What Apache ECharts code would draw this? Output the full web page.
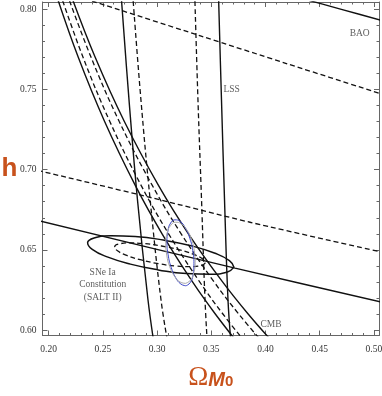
<!DOCTYPE html>
<html>
<head>
<meta charset="utf-8">
<script src="https://cdn.jsdelivr.net/npm/echarts@6.0.0/dist/echarts.min.js"></script>
<style>
  html, body { margin: 0; padding: 0; background: #fff; }
  #chart { width: 382px; height: 396px; }
</style>
</head>
<body>
<div id="chart"></div>
<script>
// axis ranges and ticks
var xMin = 0.1943, xMax = 0.5047
var yMin = 0.5966, yMax = 0.8045
var xMajor = [0.20, 0.25, 0.30, 0.35, 0.40, 0.45, 0.50]
var xMinor = [0.20, 0.21, 0.22, 0.23, 0.24, 0.25, 0.26, 0.27, 0.28, 0.29, 0.30, 0.31, 0.32, 0.33, 0.34, 0.35,
              0.36, 0.37, 0.38, 0.39, 0.40, 0.41, 0.42, 0.43, 0.44, 0.45, 0.46, 0.47, 0.48, 0.49, 0.50]
var yMajor = [0.60, 0.65, 0.70, 0.75, 0.80]
var yMinor = [0.60, 0.61, 0.62, 0.63, 0.64, 0.65, 0.66, 0.67, 0.68, 0.69, 0.70,
              0.71, 0.72, 0.73, 0.74, 0.75, 0.76, 0.77, 0.78, 0.79, 0.80]

// BAO band [Omega_M0, h]
var baoSolidUpper = [[0.43, 0.8074], [0.47, 0.7999], [0.51, 0.7925]]
var baoDashUpper = [[0.24, 0.8051], [0.34, 0.7834], [0.42, 0.7660], [0.51, 0.7465]]
var baoDashLower = [[0.19, 0.6995], [0.2935, 0.6827], [0.3857, 0.6672], [0.51, 0.6482]]
var baoSolidLower = [[0.19, 0.6683], [0.3719, 0.6386], [0.51, 0.6169]]

// LSS band
var lssSolidLeft = [[0.2667, 0.81], [0.2741, 0.7435], [0.2819, 0.6812], [0.2916, 0.6189], [0.2975, 0.59]]
var lssDashLeft = [[0.2774, 0.81], [0.2851, 0.7435], [0.2936, 0.6812], [0.3036, 0.6189], [0.3104, 0.59]]
var lssDashRight = [[0.3347, 0.81], [0.3377, 0.7435], [0.3410, 0.6812], [0.3442, 0.6189], [0.3465, 0.59]]
var lssSolidRight = [[0.3566, 0.81], [0.3594, 0.7435], [0.3622, 0.6812], [0.3654, 0.6189], [0.3684, 0.59]]

// CMB band
var cmbSolidLeft = [[0.2065, 0.81], [0.2273, 0.77], [0.2516, 0.73], [0.2800, 0.69], [0.3046, 0.66],
                    [0.3327, 0.63], [0.3537, 0.61], [0.3768, 0.59]]
var cmbDashLeft = [[0.2105, 0.81], [0.2317, 0.77], [0.2564, 0.73], [0.2854, 0.69], [0.3106, 0.66],
                   [0.3393, 0.63], [0.3607, 0.61], [0.3843, 0.59]]
var cmbDashRight = [[0.2167, 0.81], [0.2391, 0.77], [0.2651, 0.73], [0.2957, 0.69], [0.3222, 0.66],
                    [0.3526, 0.63], [0.3753, 0.61], [0.4004, 0.59]]
var cmbSolidRight = [[0.2199, 0.81], [0.2429, 0.77], [0.2698, 0.73], [0.3014, 0.69], [0.3289, 0.66],
                     [0.3604, 0.63], [0.3840, 0.61], [0.4100, 0.59]]

// SNe Ia contours
var sneSolid = [[0.3709, 0.6392], [0.3649, 0.6362], [0.3495, 0.6348], [0.3271, 0.6352], [0.3011, 0.6375],
                [0.2754, 0.6411], [0.2540, 0.6456], [0.2402, 0.6503], [0.2359, 0.6544], [0.2419, 0.6574],
                [0.2573, 0.6588], [0.2797, 0.6583], [0.3057, 0.6561], [0.3314, 0.6525], [0.3528, 0.6480],
                [0.3667, 0.6433], [0.3709, 0.6392]]
var sneDash = [[0.3445, 0.6419], [0.3407, 0.6402], [0.3312, 0.6395], [0.3173, 0.6399], [0.3012, 0.6414],
               [0.2854, 0.6437], [0.2721, 0.6465], [0.2635, 0.6494], [0.2609, 0.6519], [0.2646, 0.6536],
               [0.2741, 0.6543], [0.2880, 0.6539], [0.3041, 0.6524], [0.3200, 0.6501], [0.3332, 0.6473],
               [0.3418, 0.6444], [0.3445, 0.6419]]

// combined constraint
var jointBlue = [[0.3267, 0.6276], [0.3306, 0.6296], [0.3332, 0.6345], [0.3340, 0.6415], [0.3330, 0.6494],
                 [0.3302, 0.6572], [0.3261, 0.6636], [0.3213, 0.6677], [0.3165, 0.6687], [0.3125, 0.6667],
                 [0.3100, 0.6618], [0.3091, 0.6549], [0.3102, 0.6469], [0.3130, 0.6391], [0.3171, 0.6327],
                 [0.3219, 0.6287], [0.3267, 0.6276]]
var jointGray = [[0.3263, 0.6291], [0.3308, 0.6311], [0.3339, 0.6357], [0.3351, 0.6422], [0.3343, 0.6496],
                 [0.3316, 0.6568], [0.3273, 0.6626], [0.3221, 0.6663], [0.3169, 0.6672], [0.3125, 0.6652],
                 [0.3093, 0.6606], [0.3080, 0.6541], [0.3089, 0.6467], [0.3116, 0.6396], [0.3159, 0.6337],
                 [0.3211, 0.6300], [0.3263, 0.6291]]

// text labels
var labelNames = ['BAO', 'LSS', 'CMB', 'SNe Ia\nConstitution\n(SALT II)']
var labelPos = [[0.4869, 0.7850], [0.3688, 0.7497], [0.4051, 0.6033], [0.2498, 0.6282]]

var ink = '#111'
var frame = '#666'
var accent = '#c8521c'
var serif = 'Liberation Serif'

function curve(data, dashed, color, width, smooth) {
    return {
        type: 'line',
        data: data,
        showSymbol: false,
        silent: true,
        smooth: smooth,
        lineStyle: { color: color, width: width, type: dashed ? [5, 3] : 'solid' },
        z: 3
    }
}

function axisX(pos, ticks, len, main) {
    return {
        type: 'value',
        position: pos,
        min: xMin,
        max: xMax,
        name: main ? '{o|Ω}{m|M}{z|0}' : '',
        nameLocation: 'middle',
        nameGap: 29,
        nameTextStyle: {
            rich: {
                o: { fontFamily: serif, fontSize: 27, color: accent, padding: [0, 0, 8, 0] },
                m: { fontFamily: 'Liberation Sans', fontStyle: 'italic', fontWeight: 'bold', fontSize: 20, color: accent, padding: [0, 0, 4, 0] },
                z: { fontFamily: 'Liberation Sans', fontWeight: 'bold', fontSize: 15, color: accent }
            }
        },
        axisLine: { show: len > 3, lineStyle: { color: frame, width: 1 } },
        axisTick: { show: true, inside: true, length: len, customValues: ticks, lineStyle: { color: frame, width: 1 } },
        axisLabel: {
            show: !!main,
            customValues: xMajor,
            margin: 9,
            fontFamily: serif,
            fontSize: 9.5,
            color: '#333',
            formatter: function (v) { return v.toFixed(2) }
        },
        splitLine: { show: false }
    }
}

function axisY(pos, ticks, len, main) {
    return {
        type: 'value',
        position: pos,
        min: yMin,
        max: yMax,
        name: main ? 'h' : '',
        nameLocation: 'middle',
        nameRotate: 0,
        nameGap: 25,
        nameMoveOverlap: false,
        nameTextStyle: { fontFamily: 'Liberation Sans', fontWeight: 'bold', fontSize: 26, color: accent },
        axisLine: { show: len > 3, lineStyle: { color: frame, width: 1 } },
        axisTick: { show: true, inside: true, length: len, customValues: ticks, lineStyle: { color: frame, width: 1 } },
        axisLabel: {
            show: !!main,
            customValues: yMajor,
            margin: 6,
            fontFamily: serif,
            fontSize: 9.5,
            color: '#333',
            formatter: function (v) { return v.toFixed(2) }
        },
        splitLine: { show: false }
    }
}

var chart = echarts.init(document.getElementById('chart'), null, { renderer: 'canvas' })

var series = [
    curve(baoSolidUpper, false, ink, 1.4, 0.3),
    curve(baoDashUpper, true, ink, 1.3, 0.3),
    curve(baoDashLower, true, ink, 1.3, 0.3),
    curve(baoSolidLower, false, ink, 1.4, 0.3),
    curve(lssSolidLeft, false, ink, 1.4, 0.4),
    curve(lssDashLeft, true, ink, 1.3, 0.4),
    curve(lssDashRight, true, ink, 1.3, 0.4),
    curve(lssSolidRight, false, ink, 1.4, 0.4),
    curve(cmbSolidLeft, false, ink, 1.4, 0.4),
    curve(cmbDashLeft, true, ink, 1.3, 0.4),
    curve(cmbDashRight, true, ink, 1.3, 0.4),
    curve(cmbSolidRight, false, ink, 1.4, 0.4),
    curve(sneSolid, false, ink, 1.5, 0.5),
    curve(sneDash, true, ink, 1.3, 0.5),
    curve(jointBlue, false, '#3b46c8', 1, 0.5),
    curve(jointGray, false, '#a8a8a8', 1, 0.5),
    {
        type: 'scatter',
        symbolSize: 0,
        silent: true,
        data: labelNames.map(function (n, i) { return { name: n, value: labelPos[i] } }),
        label: {
            show: true,
            position: 'inside',
            formatter: function (p) { return p.name },
            fontFamily: serif,
            fontSize: 9.5,
            lineHeight: 12.3,
            align: 'center',
            color: '#333'
        },
        z: 5
    }
]

chart.setOption({
    animation: false,
    backgroundColor: '#fff',
    grid: { left: 42.5, right: 3, top: 2, bottom: 60.5, containLabel: false, outerBoundsMode: 'none' },
    xAxis: [
        axisX('bottom', xMajor, 5, true),
        axisX('bottom', xMinor, 2.5, false),
        axisX('top', xMajor, 5, false),
        axisX('top', xMinor, 2.5, false)
    ],
    yAxis: [
        axisY('left', yMajor, 5, true),
        axisY('left', yMinor, 2.5, false),
        axisY('right', yMajor, 5, false),
        axisY('right', yMinor, 2.5, false)
    ],
    series: series
})
</script>
</body>
</html>
